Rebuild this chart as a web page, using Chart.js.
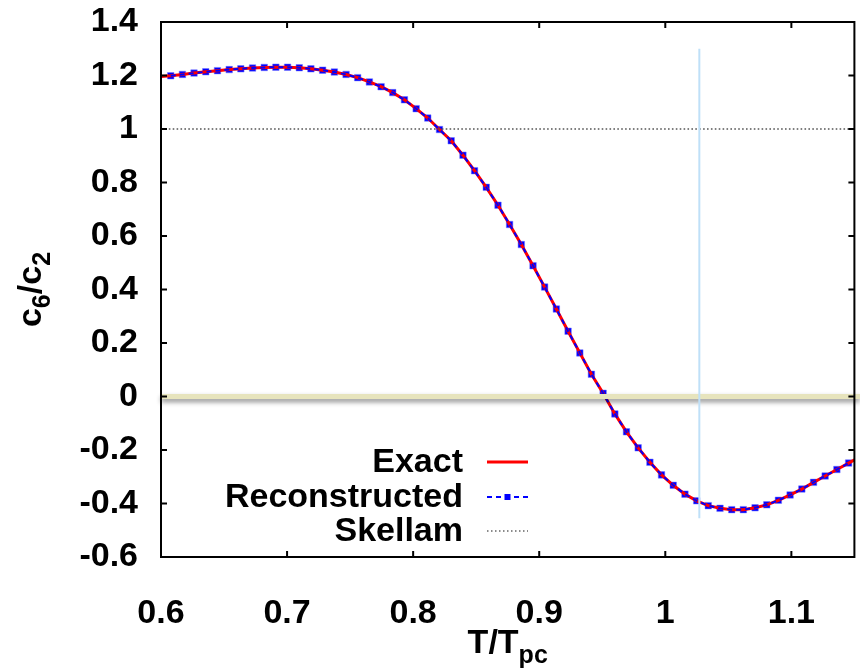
<!DOCTYPE html>
<html>
<head>
<meta charset="utf-8">
<title>c6/c2 vs T/Tpc</title>
<script src="https://cdn.jsdelivr.net/npm/chart.js@4.4.0/dist/chart.umd.min.js"></script>
<style>
  html, body { margin: 0; padding: 0; background: #fff; }
  canvas { display: block; }
</style>
</head>
<body>
<canvas id="ratioChart" width="860" height="671"></canvas>
<script>
// T/Tpc of the reconstructed points
const tValues = [
    0.6077, 0.6170, 0.6262, 0.6355, 0.6448, 0.6541, 0.6633, 0.6726, 0.6819, 0.6911,
    0.7004, 0.7097, 0.7189, 0.7282, 0.7375, 0.7468, 0.7560, 0.7653, 0.7746, 0.7838,
    0.7931, 0.8024, 0.8116, 0.8209, 0.8302, 0.8395, 0.8487, 0.8580, 0.8673, 0.8765,
    0.8858, 0.8951, 0.9043, 0.9136, 0.9229, 0.9322, 0.9414, 0.9507, 0.9600, 0.9692,
    0.9785, 0.9878, 0.9970, 1.0063, 1.0156, 1.0249, 1.0341, 1.0434, 1.0527, 1.0619,
    1.0712, 1.0805, 1.0897, 1.0990, 1.1083, 1.1176, 1.1268, 1.1361, 1.1454
];
// c6/c2 reconstructed
const reconstructed = [
    1.199, 1.204, 1.209, 1.214, 1.218, 1.222, 1.225, 1.228, 1.230, 1.231,
    1.231, 1.229, 1.225, 1.220, 1.213, 1.204, 1.192, 1.176, 1.158, 1.136,
    1.109, 1.076, 1.041, 0.998, 0.956, 0.902, 0.844, 0.782, 0.715, 0.643,
    0.568, 0.489, 0.409, 0.327, 0.244, 0.163, 0.083, 0.012, -0.065, -0.132,
    -0.192, -0.246, -0.293, -0.332, -0.365, -0.390, -0.408, -0.418, -0.423, -0.423,
    -0.416, -0.405, -0.388, -0.368, -0.346, -0.321, -0.297, -0.273, -0.249
];
// exact curve: same points plus both ends of the range
const exactT = [0.6].concat(tValues, [1.15]);
const exactValues = [1.196].concat(reconstructed, [-0.237]);
const skellamT = [0.6, 1.15];
const skellamValues = [1, 1];

const xTicks = [0.6, 0.7, 0.8, 0.9, 1.0, 1.1];
const yTicks = [1.4, 1.2, 1.0, 0.8, 0.6, 0.4, 0.2, 0, -0.2, -0.4, -0.6];
const legendLabels = ['Exact', 'Reconstructed', 'Skellam'];
const bandValue = 0;
const markerT = 1.027;
const markerRange = [-0.455, 1.3];

const FONT = 'Liberation Sans, Arial, Helvetica, sans-serif';

function points(xs, ys) {
    return xs.map((x, i) => ({ x: x, y: ys[i] }));
}

const overlay = {
    id: 'overlay',
    afterDatasetsDraw(chart) {
        const ctx = chart.ctx;
        const area = chart.chartArea;
        const xs = chart.scales.x;
        const ys = chart.scales.y;

        // highlighted zero line
        const y0 = ys.getPixelForValue(bandValue);
        ctx.save();
        ctx.shadowColor = 'rgba(0,0,0,0.45)';
        ctx.shadowBlur = 5;
        ctx.shadowOffsetY = 3;
        ctx.strokeStyle = '#e7e4bd';
        ctx.lineWidth = 5;
        ctx.beginPath();
        ctx.moveTo(area.left, y0);
        ctx.lineTo(chart.width, y0);
        ctx.stroke();
        ctx.restore();

        // vertical marker
        const vx = xs.getPixelForValue(markerT);
        ctx.save();
        ctx.strokeStyle = '#bfe0f8';
        ctx.lineWidth = 2;
        ctx.beginPath();
        ctx.moveTo(vx, ys.getPixelForValue(markerRange[1]));
        ctx.lineTo(vx, ys.getPixelForValue(markerRange[0]));
        ctx.stroke();
        ctx.restore();
    },
    afterDraw(chart) {
        const ctx = chart.ctx;
        const area = chart.chartArea;
        const xs = chart.scales.x;
        const ys = chart.scales.y;
        const tick = 6;

        ctx.save();
        ctx.strokeStyle = '#000';
        ctx.lineWidth = 2;
        ctx.strokeRect(area.left, area.top, area.right - area.left, area.bottom - area.top);
        ctx.beginPath();
        xTicks.forEach(v => {
            const px = xs.getPixelForValue(v);
            ctx.moveTo(px, area.bottom); ctx.lineTo(px, area.bottom - tick);
            ctx.moveTo(px, area.top); ctx.lineTo(px, area.top + tick);
        });
        yTicks.forEach(v => {
            const py = ys.getPixelForValue(v);
            ctx.moveTo(area.left, py); ctx.lineTo(area.left + tick, py);
            ctx.moveTo(area.right, py); ctx.lineTo(area.right - tick, py);
        });
        ctx.stroke();

        // legend
        const textRight = 463;
        const sx0 = 487, sx1 = 528;
        const rows = [462, 497, 531];
        ctx.fillStyle = '#000';
        ctx.font = 'bold 34px ' + FONT;
        ctx.textAlign = 'right';
        ctx.textBaseline = 'middle';
        legendLabels.forEach((label, i) => ctx.fillText(label, textRight, rows[i] + 1));

        ctx.strokeStyle = '#ff0000';
        ctx.lineWidth = 3;
        ctx.beginPath(); ctx.moveTo(sx0, rows[0]); ctx.lineTo(sx1, rows[0]); ctx.stroke();

        ctx.strokeStyle = '#0000ff';
        ctx.lineWidth = 2;
        ctx.setLineDash([5, 4]);
        ctx.beginPath(); ctx.moveTo(sx0, rows[1]); ctx.lineTo(sx1, rows[1]); ctx.stroke();
        ctx.setLineDash([]);
        ctx.fillStyle = '#0000ff';
        ctx.fillRect((sx0 + sx1) / 2 - 3, rows[1] - 3, 6, 6);

        ctx.strokeStyle = '#666';
        ctx.lineWidth = 1.5;
        ctx.setLineDash([1.5, 2.5]);
        ctx.beginPath(); ctx.moveTo(sx0, rows[2]); ctx.lineTo(sx1, rows[2]); ctx.stroke();
        ctx.setLineDash([]);

        // axis titles with subscripts
        ctx.fillStyle = '#000';
        ctx.textAlign = 'left';
        ctx.textBaseline = 'alphabetic';
        const big = 'bold 34px ' + FONT;
        const small = 'bold 25px ' + FONT;

        ctx.font = big;
        const wT = ctx.measureText('T/T').width;
        ctx.font = small;
        const wpc = ctx.measureText('pc').width;
        let x = (area.left + area.right) / 2 - (wT + wpc) / 2;
        ctx.font = big;
        ctx.fillText('T/T', x, 653);
        ctx.font = small;
        ctx.fillText('pc', x + wT, 663);

        ctx.translate(41, (area.top + area.bottom) / 2);
        ctx.rotate(-Math.PI / 2);
        const parts = [['c', big, 0], ['6', small, 9], ['/', big, 0], ['c', big, 0], ['2', small, 9]];
        let total = 0;
        parts.forEach(p => { ctx.font = p[1]; total += ctx.measureText(p[0]).width; });
        x = -total / 2;
        parts.forEach(p => {
            ctx.font = p[1];
            ctx.fillText(p[0], x, p[2]);
            x += ctx.measureText(p[0]).width;
        });
        ctx.restore();
    }
};

const ctx = document.getElementById('ratioChart').getContext('2d');
const chart = new Chart(ctx, {
    type: 'scatter',
    data: {
        datasets: [
            {
                label: 'Skellam',
                data: points(skellamT, skellamValues),
                showLine: true,
                borderColor: '#555',
                borderWidth: 1.5,
                borderDash: [1.6, 2.3],
                pointRadius: 0
            },
            {
                label: 'Reconstructed line',
                data: points(tValues, reconstructed),
                showLine: true,
                borderColor: '#0000ff',
                borderWidth: 2,
                borderDash: [5, 4],
                pointRadius: 0
            },
            {
                label: 'Exact',
                data: points(exactT, exactValues),
                showLine: true,
                borderColor: '#ff0000',
                borderWidth: 3,
                pointRadius: 0
            },
            {
                label: 'Reconstructed',
                data: points(tValues, reconstructed),
                showLine: false,
                pointStyle: 'rect',
                pointRadius: 4.6,
                pointBackgroundColor: '#0000ff',
                pointBorderColor: 'rgba(120,120,255,0.5)',
                pointBorderWidth: 1
            }
        ]
    },
    options: {
        responsive: false,
        animation: false,
        devicePixelRatio: 1,
        layout: { padding: { top: 22, right: 3, left: 0, bottom: 0 } },
        plugins: {
            legend: { display: false },
            tooltip: { enabled: false }
        },
        scales: {
            x: {
                type: 'linear',
                min: 0.6,
                max: 1.15,
                afterBuildTicks: scale => { scale.ticks = xTicks.map(v => ({ value: v })); },
                afterFit: scale => {
                    scale.height = 114;
                    scale.paddingLeft = 0;
                    scale.paddingRight = 0;
                },
                grid: { display: false, drawTicks: false },
                border: { display: false },
                ticks: {
                    color: '#000',
                    padding: 36,
                    maxRotation: 0,
                    font: { family: FONT, size: 34, weight: 'bold' },
                    callback: v => String(Number(v.toFixed(1)))
                }
            },
            y: {
                type: 'linear',
                min: -0.6,
                max: 1.4,
                afterBuildTicks: scale => { scale.ticks = yTicks.map(v => ({ value: v })); },
                afterFit: scale => {
                    scale.width = 161;
                    scale.paddingTop = 0;
                    scale.paddingBottom = 0;
                },
                grid: { display: false, drawTicks: false },
                border: { display: false },
                ticks: {
                    color: '#000',
                    padding: 23,
                    font: { family: FONT, size: 34, weight: 'bold' },
                    callback: v => String(Number(v.toFixed(1)))
                }
            }
        }
    },
    plugins: [overlay]
});
</script>
</body>
</html>
